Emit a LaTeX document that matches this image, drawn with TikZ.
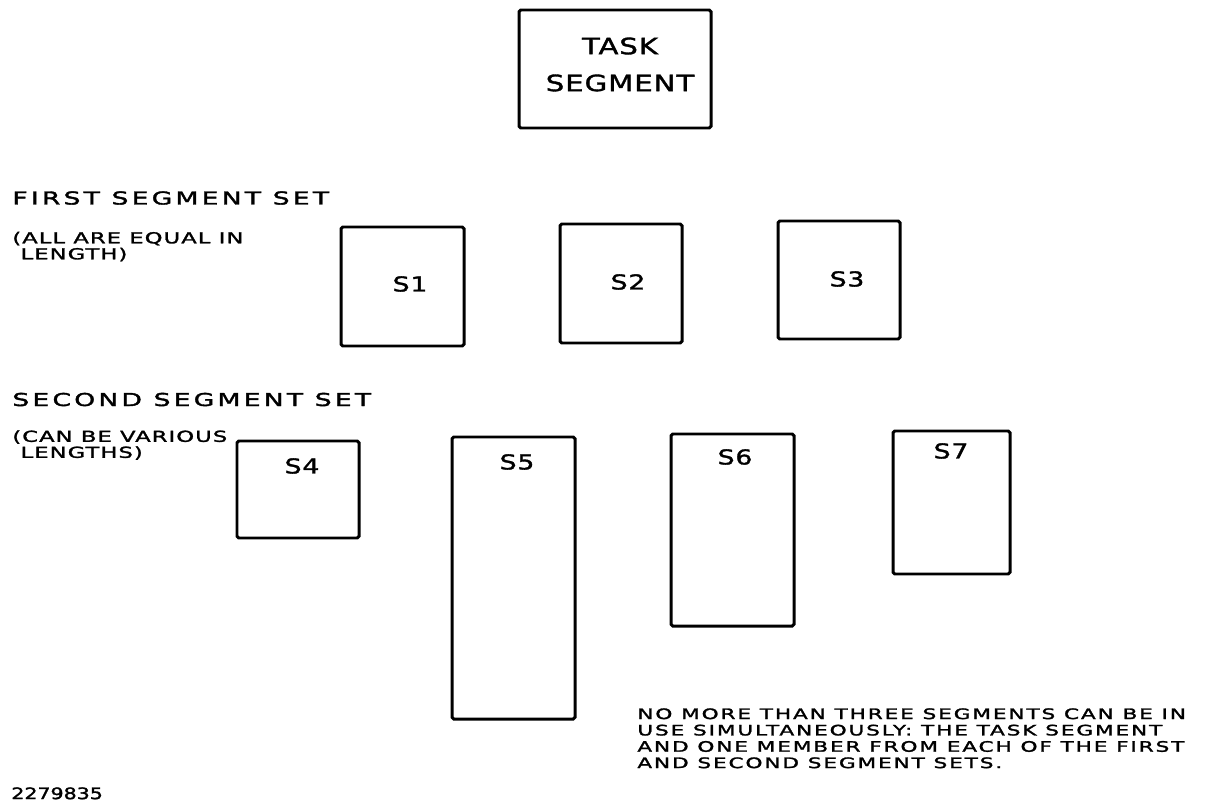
\documentclass[tikz,border=0pt]{standalone}
\usepackage{fontspec}
\setmainfont{DejaVu Sans}
\newfontfamily\headfont[FakeStretch=1.5,FakeBold=2,LetterSpace=18]{DejaVu Sans}
\newfontfamily\subfont[FakeStretch=1.5,FakeBold=1.8,LetterSpace=7]{DejaVu Sans}
\newfontfamily\notefont[FakeStretch=1.5,FakeBold=1.8,LetterSpace=13]{DejaVu Sans}
\newfontfamily\boxfont[FakeStretch=1.3,FakeBold=1.5,LetterSpace=4]{DejaVu Sans}
\newfontfamily\numfont[FakeStretch=1.3,FakeBold=1.8,LetterSpace=0]{DejaVu Sans}
\usetikzlibrary{positioning}
\tikzset{
  segbox/.style={
    draw,
    line width=1.7pt,
    rounded corners=1pt,
    inner sep=0pt
  },
  seglabel/.style={
    inner sep=0pt,
    font=\boxfont\fontsize{11.7}{14}\selectfont
  },
  sethead/.style={
    anchor=base west,
    inner sep=0pt,
    font=\headfont\fontsize{10.1}{12}\selectfont
  },
  setnote/.style={
    anchor=north west,
    inner sep=0pt,
    align=left,
    font=\subfont\fontsize{8.6}{9.1}\selectfont
  }
}

\begin{document}
\begin{tikzpicture}[x=0.02cm,y=-0.02cm]
\useasboundingbox (0,0) rectangle (1212,807);
% task segment
\node[segbox, minimum width=192*0.02cm, minimum height=118*0.02cm] (task) at (615,69) {};
\node[seglabel, font=\boxfont\fontsize{12.8}{21}\selectfont, align=center] (tasktext) at (620,64.5) {TASK\\SEGMENT};
% first segment set
\node[sethead] (firsthead) at (12,204.5) {FIRST SEGMENT SET};
\node[setnote] (firstnote) at (12,231.5) {(ALL ARE EQUAL IN\\\ LENGTH)};
\node[segbox, minimum width=123*0.02cm, minimum height=119*0.02cm] (s1) at (402.5,286.5) {};
\node[segbox, minimum width=122*0.02cm, minimum height=119*0.02cm] (s2) at (621,283.5) {};
\node[segbox, minimum width=122*0.02cm, minimum height=118*0.02cm] (s3) at (839,280) {};
\node[seglabel] (s1text) at (410,284) {S1};
\node[seglabel] (s2text) at (628,282) {S2};
\node[seglabel] (s3text) at (847,279) {S3};
% second segment set
\node[sethead] (secondhead) at (12,406) {SECOND SEGMENT SET};
\node[setnote] (secondnote) at (12,430) {(CAN BE VARIOUS\\\ LENGTHS)};
\node[segbox, minimum width=122*0.02cm, minimum height=97*0.02cm] (s4) at (298,489.5) {};
\node[segbox, minimum width=123*0.02cm, minimum height=282*0.02cm] (s5) at (513.5,578) {};
\node[segbox, minimum width=123*0.02cm, minimum height=192*0.02cm] (s6) at (732.5,530) {};
\node[segbox, minimum width=117*0.02cm, minimum height=143*0.02cm] (s7) at (951.5,502.5) {};
\node[seglabel] (s4text) at (302,466) {S4};
\node[seglabel] (s5text) at (517,462) {S5};
\node[seglabel] (s6text) at (735,457) {S6};
\node[seglabel] (s7text) at (951,451) {S7};
% remark and figure number
\node[setnote, font=\notefont\fontsize{8.2}{9.3}\selectfont] (remark) at (637,708)
  {NO MORE THAN THREE SEGMENTS CAN BE IN\\USE SIMULTANEOUSLY: THE TASK SEGMENT\\AND ONE MEMBER FROM EACH OF THE FIRST\\AND SECOND SEGMENT SETS.};
\node[setnote, font=\numfont\fontsize{9}{10}\selectfont] (fignum) at (11,787) {2279835};
\end{tikzpicture}
\end{document}
